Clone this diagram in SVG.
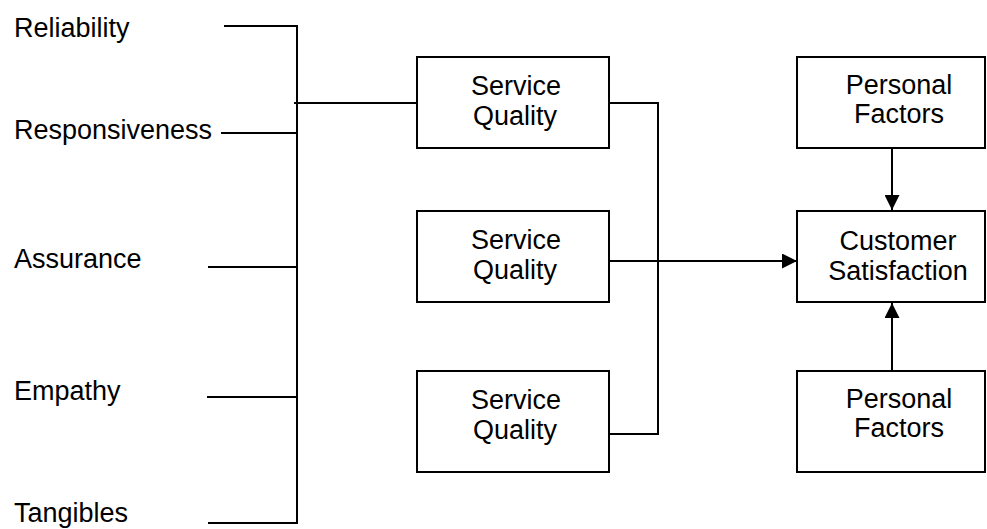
<svg xmlns="http://www.w3.org/2000/svg" width="987" height="529" viewBox="0 0 987 529">
<style>
text{font-family:"Liberation Sans",Arial,sans-serif;font-size:27px;fill:#000}
.c{text-anchor:middle}
.box{fill:#fff;stroke:#000;stroke-width:2}
.ln{fill:none;stroke:#000;stroke-width:2}
</style>
<defs>
<marker id="ah" viewBox="0 0 15 15" refX="15" refY="7.5" markerWidth="15" markerHeight="15" markerUnits="userSpaceOnUse" orient="auto">
<path d="M0,0 L15,7.5 L0,15 Z" fill="#000"/>
</marker>
</defs>
<rect width="987" height="529" fill="#fff"/>
<g id="connectors">
<path class="ln" d="M224,26 H297 V523 H208"/>
<path class="ln" d="M221,133 H297"/>
<path class="ln" d="M208,267 H297"/>
<path class="ln" d="M207,397 H297"/>
<path class="ln" d="M294,103 H419"/>
<path class="ln" d="M609,103 H658 V434 H609"/>
<path class="ln" d="M609,261 H797" marker-end="url(#ah)"/>
<path class="ln" d="M892,148 V210" marker-end="url(#ah)"/>
<path class="ln" d="M892,371 V303" marker-end="url(#ah)"/>
</g>
<g id="reliability"><text x="14" y="37">Reliability</text></g>
<g id="responsiveness"><text x="14" y="139">Responsiveness</text></g>
<g id="assurance"><text x="14" y="268">Assurance</text></g>
<g id="empathy"><text x="14" y="400">Empathy</text></g>
<g id="tangibles"><text x="14" y="522">Tangibles</text></g>
<g id="sq1"><rect class="box" x="417" y="57" width="192" height="91"/><text class="c" x="516" y="95">Service</text><text class="c" x="515" y="125">Quality</text></g>
<g id="sq2"><rect class="box" x="417" y="211" width="192" height="91"/><text class="c" x="516" y="249">Service</text><text class="c" x="515" y="279">Quality</text></g>
<g id="sq3"><rect class="box" x="417" y="371" width="192" height="101"/><text class="c" x="516" y="409">Service</text><text class="c" x="515" y="439">Quality</text></g>
<g id="pf1"><rect class="box" x="797" y="57" width="188" height="91"/><text class="c" x="899" y="94">Personal</text><text class="c" x="899" y="123">Factors</text></g>
<g id="cs"><rect class="box" x="797" y="211" width="188" height="91"/><text class="c" x="898" y="250">Customer</text><text class="c" x="898" y="280">Satisfaction</text></g>
<g id="pf2"><rect class="box" x="797" y="371" width="188" height="101"/><text class="c" x="899" y="408">Personal</text><text class="c" x="899" y="437">Factors</text></g>
</svg>
